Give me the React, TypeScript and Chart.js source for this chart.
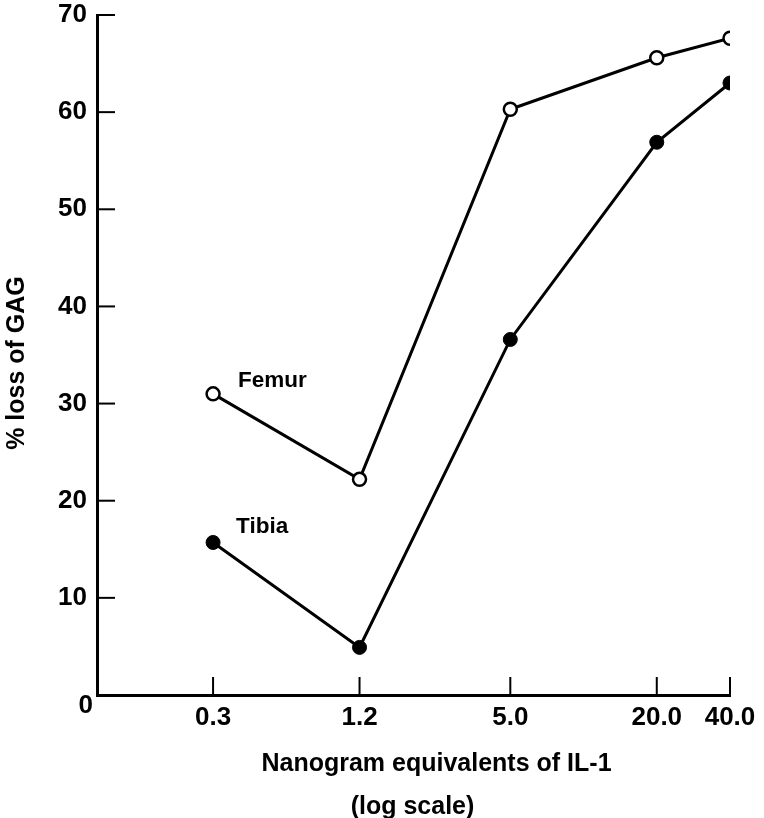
import React, { useEffect, useRef } from 'react';
import { Chart, registerables } from 'chart.js';

Chart.register(...registerables);

// ---- data ----
const doses: number[] = [0.3, 1.2, 5.0, 20.0, 40.0];
const xTickLabels: string[] = ['0.3', '1.2', '5.0', '20.0', '40.0'];
const femur: number[] = [31.0, 22.2, 60.3, 65.6, 67.6];
const tibia: number[] = [15.7, 4.9, 36.6, 56.9, 63.0];
const yTicks: number[] = [0, 10, 20, 30, 40, 50, 60, 70];
const seriesNames: string[] = ['Femur', 'Tibia'];
const yTitle = '% loss of GAG';
const xTitle: string[] = ['Nanogram equivalents of IL-1', '(log scale)'];

const FONT = '"Liberation Sans", Arial, Helvetica, sans-serif';

const overlay = {
  id: 'overlay',
  afterDraw(chart: any) {
    const { ctx, chartArea: a, scales } = chart;
    const x = scales.x;
    const y = scales.y;
    ctx.save();
    ctx.strokeStyle = '#000';
    ctx.lineWidth = 2;
    yTicks.forEach((v) => {
      if (v === 0) return;
      const py = y.getPixelForValue(v);
      ctx.beginPath();
      ctx.moveTo(a.left, py);
      ctx.lineTo(a.left + 18, py);
      ctx.stroke();
    });
    doses.forEach((v) => {
      const px = x.getPixelForValue(v);
      ctx.beginPath();
      ctx.moveTo(px, a.bottom);
      ctx.lineTo(px, a.bottom - 18);
      ctx.stroke();
    });

    ctx.fillStyle = '#000';
    // zero label
    ctx.font = `bold 26px ${FONT}`;
    ctx.textAlign = 'right';
    ctx.textBaseline = 'middle';
    ctx.fillText('0', a.left - 4, y.getPixelForValue(0) + 11);

    // x title
    ctx.font = `bold 25px ${FONT}`;
    const cx = (a.left + a.right) / 2;
    ctx.textAlign = 'center';
    ctx.fillText(xTitle[0], cx + 23, a.bottom + 69);
    ctx.fillText(xTitle[1], cx - 1, a.bottom + 112);

    // y title
    ctx.save();
    ctx.translate(17, (a.top + a.bottom) / 2 + 8);
    ctx.rotate(-Math.PI / 2);
    ctx.textAlign = 'center';
    ctx.fillText(yTitle, 0, 0);
    ctx.restore();

    // series labels
    ctx.font = `bold 22.5px ${FONT}`;
    ctx.textAlign = 'left';
    ctx.fillText(
      seriesNames[0],
      x.getPixelForValue(doses[0]) + 25,
      y.getPixelForValue(femur[0]) - 13
    );
    ctx.fillText(
      seriesNames[1],
      x.getPixelForValue(doses[0]) + 23,
      y.getPixelForValue(tibia[0]) - 16
    );
    ctx.restore();
  },
};

export default function App() {
  const ref = useRef<HTMLCanvasElement | null>(null);

  useEffect(() => {
    if (!ref.current) return;
    const tickFont = { family: FONT, size: 26, weight: 'bold' as const, lineHeight: 1 };
    const chart = new Chart(ref.current, {
      type: 'line',
      data: {
        datasets: [
          {
            label: seriesNames[0],
            data: doses.map((d, i) => ({ x: d, y: femur[i] })),
            borderColor: '#000',
            borderWidth: 3,
            pointRadius: 6.5,
            pointBorderWidth: 2.5,
            pointBackgroundColor: '#fff',
            pointBorderColor: '#000',
            tension: 0,
          },
          {
            label: seriesNames[1],
            data: doses.map((d, i) => ({ x: d, y: tibia[i] })),
            borderColor: '#000',
            borderWidth: 3,
            pointRadius: 7,
            pointBorderWidth: 1,
            pointBackgroundColor: '#000',
            pointBorderColor: '#000',
            tension: 0,
          },
        ],
      },
      options: {
        animation: false,
        responsive: true,
        maintainAspectRatio: false,
        layout: { padding: { top: 15, right: 34, left: 0, bottom: 0 } },
        plugins: {
          legend: { display: false },
          tooltip: { enabled: false },
        },
        scales: {
          x: {
            type: 'logarithmic',
            min: 0.1,
            max: 40,
            afterBuildTicks: (s: any) => {
              s.ticks = doses.map((v) => ({ value: v }));
            },
            afterFit: (s: any) => {
              s.height = 123;
              s.paddingLeft = 0;
              s.paddingRight = 0;
            },
            ticks: {
              callback: (_v: any, i: number) => xTickLabels[i],
              font: tickFont,
              color: '#000',
              padding: 10,
              maxRotation: 0,
              autoSkip: false,
            },
            grid: { display: false, drawTicks: false },
            border: { display: true, color: '#000', width: 3 },
          },
          y: {
            type: 'linear',
            min: 0,
            max: 70,
            afterBuildTicks: (s: any) => {
              s.ticks = yTicks.map((v) => ({ value: v }));
            },
            afterFit: (s: any) => {
              s.width = 97;
              s.paddingTop = 0;
              s.paddingBottom = 0;
            },
            ticks: {
              callback: (v: any) => (v === 0 ? '' : String(v)),
              font: tickFont,
              color: '#000',
              padding: 10,
            },
            grid: { display: false, drawTicks: false },
            border: { display: true, color: '#000', width: 3 },
          },
        },
      },
      plugins: [overlay],
    });
    return () => chart.destroy();
  }, []);

  return (
    <div
      style={{
        position: 'absolute',
        left: 0,
        top: 0,
        width: 764,
        height: 818,
        background: '#fff',
      }}
    >
      <canvas ref={ref} />
    </div>
  );
}
